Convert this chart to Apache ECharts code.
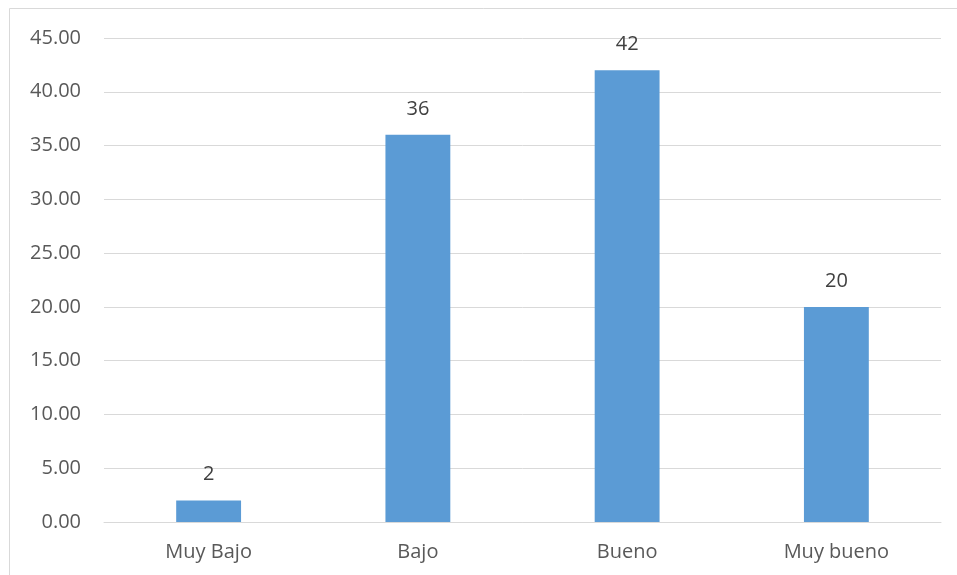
<!DOCTYPE html>
<html><head><meta charset="utf-8">
<script src="https://cdn.jsdelivr.net/npm/echarts@6/dist/echarts.min.js"></script>
<style>html,body{margin:0;padding:0;background:#fff}#c{width:957px;height:575px}</style>
</head><body><div id="c"></div>
<script>
const categories = ["Muy Bajo", "Bajo", "Bueno", "Muy bueno"];
const values = [2, 36, 42, 20];
const yMin = 0, yMax = 45, yStep = 5;

const chart = echarts.init(document.getElementById('c'), null, {renderer: 'canvas'});
const font = "'Open Sans', 'Liberation Sans', sans-serif";
chart.setOption({
  animation: false,
  backgroundColor: '#ffffff',
  graphic: [{
    type: 'rect', silent: true,
    shape: {x: 9.5, y: 8.5, width: 1200, height: 1200},
    style: {fill: 'none', stroke: '#d9d9d9', lineWidth: 1}
  }],
  grid: {left: 104, right: 16, top: 38, bottom: 53},
  xAxis: {
    type: 'category', data: categories,
    axisLine: {show: true, lineStyle: {color: '#d9d9d9', width: 1}},
    axisTick: {show: false},
    axisLabel: {color: '#595959', fontSize: 20, fontFamily: font, margin: 20}
  },
  yAxis: {
    type: 'value', min: yMin, max: yMax, interval: yStep,
    axisLine: {show: false}, axisTick: {show: false},
    splitLine: {lineStyle: {color: '#d9d9d9', width: 1}},
    axisLabel: {color: '#595959', fontSize: 20, fontFamily: font, margin: 23,
      formatter: v => v.toFixed(2)}
  },
  series: [{
    type: 'bar', data: values, barWidth: '31%',
    itemStyle: {color: '#5b9bd5'},
    label: {show: true, position: 'top', distance: 16, color: '#404040', fontSize: 20, fontFamily: font}
  }]
});
</script></body></html>
